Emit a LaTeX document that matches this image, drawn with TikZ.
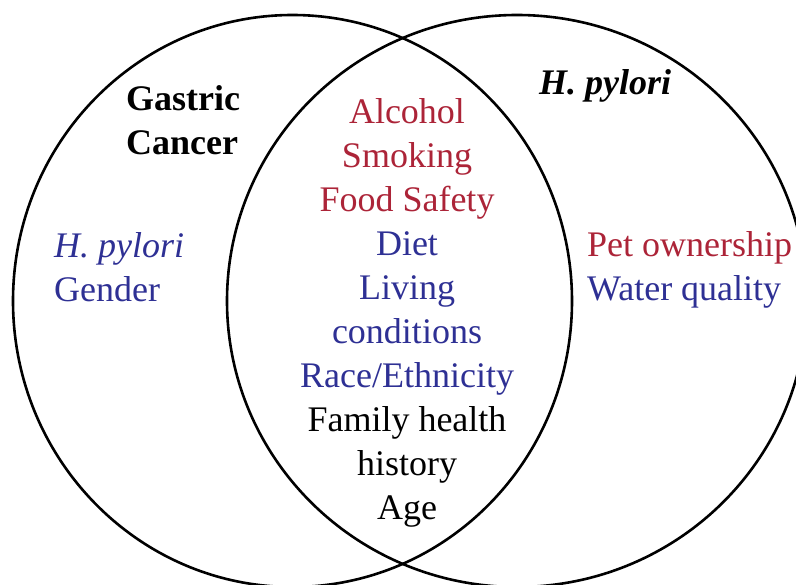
\documentclass[tikz,border=0pt]{standalone}
\usepackage{fontspec}
\setmainfont{Liberation Serif}
\usepackage{tikz}
\definecolor{riskred}{RGB}{172,36,56}
\definecolor{riskblue}{RGB}{46,48,148}

\begin{document}
\begin{tikzpicture}[x=1pt,y=-1pt,
    factor/.style={inner sep=0pt,font=\fontsize{36}{44}\selectfont},
    outline/.style={line width=2.6pt}]
  \useasboundingbox (0,0) rectangle (796,585);
  \def\vrad{286}
  % The two sets, drawn as ellipses that overlap in the middle.
  \draw[outline] (292.5,301) ellipse[x radius=279.5,y radius=\vrad];
  \draw[outline] (517,301) ellipse[x radius=290,y radius=\vrad];
  \node[factor,anchor=north west,align=left,font=\fontsize{36}{44}\selectfont\bfseries]
    (cancer) at (126,85.5) {Gastric\\Cancer};
  \node[factor,anchor=north west,font=\fontsize{36}{44}\selectfont\bfseries\itshape]
    (hpylori) at (539,69) {H. pylori};
  \node[factor,anchor=north west,align=left,text=riskblue]
    (leftset) at (54,232.5) {\textit{H. pylori}\\Gender};
  \node[factor,anchor=north west,align=left]
    (rightset) at (587,231.5) {\textcolor{riskred}{Pet ownership}\\\textcolor{riskblue}{Water quality}};
  \node[factor,anchor=north,align=center]
    (shared) at (407,98.4) {\textcolor{riskred}{Alcohol}\\
      \textcolor{riskred}{Smoking}\\
      \textcolor{riskred}{Food Safety}\\
      \textcolor{riskblue}{Diet}\\
      \textcolor{riskblue}{Living}\\
      \textcolor{riskblue}{conditions}\\
      \textcolor{riskblue}{Race/Ethnicity}\\
      Family health\\
      history\\
      Age};
\end{tikzpicture}
\end{document}
